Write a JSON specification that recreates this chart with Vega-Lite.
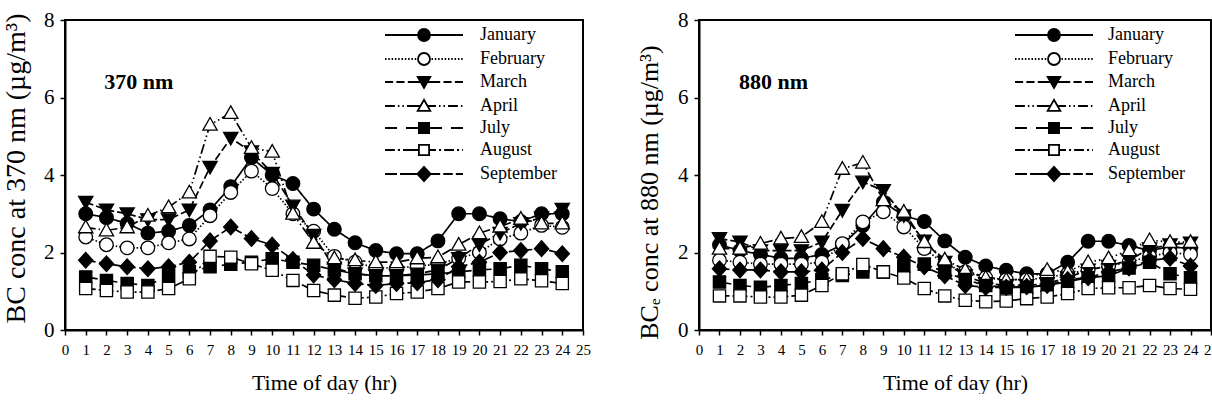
{
  "$schema": "https://vega.github.io/schema/vega-lite/v6.json",
  "padding": {"left": 0, "top": 8, "right": 0, "bottom": 0},
  "background": "white",
  "datasets": {
    "nm370": [
      {"hour": 1, "January": 3.0, "February": 2.4, "March": 3.3, "April": 2.65, "July": 1.37, "August": 1.07, "September": 1.8},
      {"hour": 2, "January": 2.9, "February": 2.2, "March": 3.1, "April": 2.57, "July": 1.28, "August": 1.02, "September": 1.71},
      {"hour": 3, "January": 2.75, "February": 2.12, "March": 3.0, "April": 2.65, "July": 1.2, "August": 0.98, "September": 1.63},
      {"hour": 4, "January": 2.5, "February": 2.12, "March": 2.85, "April": 2.95, "July": 1.15, "August": 0.98, "September": 1.58},
      {"hour": 5, "January": 2.55, "February": 2.25, "March": 2.85, "April": 3.17, "July": 1.41, "August": 1.07, "September": 1.63},
      {"hour": 6, "January": 2.7, "February": 2.35, "March": 3.1, "April": 3.55, "July": 1.5, "August": 1.32, "September": 1.75},
      {"hour": 7, "January": 3.1, "February": 2.95, "March": 4.2, "April": 5.3, "July": 1.63, "August": 1.9, "September": 2.3},
      {"hour": 8, "January": 3.7, "February": 3.55, "March": 4.95, "April": 5.6, "July": 1.7, "August": 1.88, "September": 2.66},
      {"hour": 9, "January": 4.45, "February": 4.1, "March": 4.6, "April": 4.7, "July": 1.75, "August": 1.71, "September": 2.36},
      {"hour": 10, "January": 4.0, "February": 3.65, "March": 4.05, "April": 4.6, "July": 1.84, "August": 1.54, "September": 2.19},
      {"hour": 11, "January": 3.78, "February": 3.0, "March": 3.2, "April": 3.0, "July": 1.75, "August": 1.28, "September": 1.82},
      {"hour": 12, "January": 3.12, "February": 2.55, "March": 2.45, "April": 2.25, "July": 1.67, "August": 1.02, "September": 1.42},
      {"hour": 13, "January": 2.6, "February": 1.9, "March": 1.6, "April": 1.85, "July": 1.55, "August": 0.9, "September": 1.3},
      {"hour": 14, "January": 2.25, "February": 1.75, "March": 1.45, "April": 1.8, "July": 1.45, "August": 0.82, "September": 1.2},
      {"hour": 15, "January": 2.05, "February": 1.6, "March": 1.4, "April": 1.75, "July": 1.4, "August": 0.85, "September": 1.15},
      {"hour": 16, "January": 1.97, "February": 1.6, "March": 1.4, "April": 1.75, "July": 1.4, "August": 0.94, "September": 1.2},
      {"hour": 17, "January": 1.97, "February": 1.65, "March": 1.45, "April": 1.85, "July": 1.42, "August": 0.98, "September": 1.22},
      {"hour": 18, "January": 2.3, "February": 1.7, "March": 1.55, "April": 1.88, "July": 1.45, "August": 1.07, "September": 1.3},
      {"hour": 19, "January": 3.0, "February": 1.85, "March": 1.85, "April": 2.2, "July": 1.5, "August": 1.24, "September": 1.63},
      {"hour": 20, "January": 3.0, "February": 2.0, "March": 2.2, "April": 2.5, "July": 1.55, "August": 1.24, "September": 1.75},
      {"hour": 21, "January": 2.87, "February": 2.35, "March": 2.5, "April": 2.67, "July": 1.58, "August": 1.25, "September": 2.0},
      {"hour": 22, "January": 2.8, "February": 2.5, "March": 2.75, "April": 2.87, "July": 1.67, "August": 1.32, "September": 2.05},
      {"hour": 23, "January": 3.0, "February": 2.7, "March": 2.9, "April": 2.75, "July": 1.58, "August": 1.27, "September": 2.1},
      {"hour": 24, "January": 3.0, "February": 2.65, "March": 3.12, "April": 2.75, "July": 1.5, "August": 1.2, "September": 1.97}
    ],
    "nm880": [
      {"hour": 1, "January": 2.2, "February": 1.8, "March": 2.36, "April": 2.1, "July": 1.24, "August": 0.88, "September": 1.58},
      {"hour": 2, "January": 2.05, "February": 1.75, "March": 2.27, "April": 2.1, "July": 1.15, "August": 0.88, "September": 1.55},
      {"hour": 3, "January": 1.95, "February": 1.7, "March": 2.05, "April": 2.23, "July": 1.1, "August": 0.85, "September": 1.55},
      {"hour": 4, "January": 1.85, "February": 1.7, "March": 2.05, "April": 2.36, "July": 1.15, "August": 0.85, "September": 1.5},
      {"hour": 5, "January": 1.85, "February": 1.7, "March": 2.05, "April": 2.4, "July": 1.2, "August": 0.9, "September": 1.5},
      {"hour": 6, "January": 1.95, "February": 1.75, "March": 2.27, "April": 2.79, "July": 1.3, "August": 1.15, "September": 1.55},
      {"hour": 7, "January": 2.2, "February": 2.23, "March": 3.09, "April": 4.16, "July": 1.41, "August": 1.45, "September": 2.0},
      {"hour": 8, "January": 2.7, "February": 2.79, "March": 3.82, "April": 4.32, "July": 1.5, "August": 1.69, "September": 2.36},
      {"hour": 9, "January": 3.3, "February": 3.05, "March": 3.6, "April": 3.35, "July": 1.5, "August": 1.5, "September": 2.1},
      {"hour": 10, "January": 2.95, "February": 2.66, "March": 2.95, "April": 3.05, "July": 1.65, "August": 1.34, "September": 1.88},
      {"hour": 11, "January": 2.8, "February": 2.1, "March": 2.3, "April": 2.27, "July": 1.7, "August": 1.07, "September": 1.63},
      {"hour": 12, "January": 2.3, "February": 1.7, "March": 1.75, "April": 1.82, "July": 1.5, "August": 0.88, "September": 1.4},
      {"hour": 13, "January": 1.88, "February": 1.5, "March": 1.4, "April": 1.55, "July": 1.3, "August": 0.77, "September": 1.15},
      {"hour": 14, "January": 1.65, "February": 1.35, "March": 1.2, "April": 1.35, "July": 1.15, "August": 0.73, "September": 1.1},
      {"hour": 15, "January": 1.54, "February": 1.3, "March": 1.15, "April": 1.3, "July": 1.1, "August": 0.75, "September": 1.1},
      {"hour": 16, "January": 1.45, "February": 1.3, "March": 1.15, "April": 1.3, "July": 1.1, "August": 0.81, "September": 1.12},
      {"hour": 17, "January": 1.45, "February": 1.35, "March": 1.2, "April": 1.55, "July": 1.15, "August": 0.85, "September": 1.15},
      {"hour": 18, "January": 1.75, "February": 1.45, "March": 1.35, "April": 1.5, "July": 1.25, "August": 0.94, "September": 1.3},
      {"hour": 19, "January": 2.29, "February": 1.55, "March": 1.55, "April": 1.75, "July": 1.35, "August": 1.07, "September": 1.35},
      {"hour": 20, "January": 2.29, "February": 1.65, "March": 1.65, "April": 1.85, "July": 1.4, "August": 1.09, "September": 1.5},
      {"hour": 21, "January": 2.18, "February": 1.75, "March": 1.8, "April": 2.06, "July": 1.6, "August": 1.09, "September": 1.6},
      {"hour": 22, "January": 2.05, "February": 1.9, "March": 2.1, "April": 2.32, "July": 1.75, "August": 1.15, "September": 1.8},
      {"hour": 23, "January": 2.15, "February": 2.0, "March": 2.2, "April": 2.27, "July": 1.45, "August": 1.07, "September": 1.85},
      {"hour": 24, "January": 2.1, "February": 1.95, "March": 2.25, "April": 2.27, "July": 1.35, "August": 1.05, "September": 1.65}
    ]
  },
  "hconcat": [
    {
      "width": 518,
      "height": 310,
      "data": {"name": "nm370"},
      "transform": [{"fold": ["January", "February", "March", "April", "July", "August", "September"], "as": ["month", "bc"]}],
      "layer": [
        {
          "mark": {"type": "line", "stroke": "black", "strokeWidth": 1.7},
          "encoding": {
            "x": {"field": "hour", "type": "quantitative", "scale": {"domain": [0, 25], "nice": false}, "axis": {"tickCount": 25, "title": "Time of day (hr)"}},
            "y": {"field": "bc", "type": "quantitative", "scale": {"domain": [0, 8], "nice": false}, "axis": {"tickCount": 4, "title": "BC conc at 370 nm (µg/m³)", "titleY": 148, "titleFontSize": 28, "titlePadding": 13.5}},
            "strokeDash": {"field": "month", "type": "nominal", "legend": null,
              "scale": {"domain": ["January", "February", "March", "April", "July", "August", "September"],
                        "range": [[1, 0], [1.5, 2], [8, 3], [10, 3, 1.5, 3, 1.5, 3], [12, 8], [10, 3, 2, 3], [10, 3.5]]}}
          }
        },
        {
          "mark": {"type": "point", "filled": true, "stroke": "black", "strokeWidth": 1.3, "size": 185, "opacity": 1},
          "encoding": {
            "x": {"field": "hour", "type": "quantitative", "scale": {"domain": [0, 25], "nice": false}, "axis": {"tickCount": 25, "title": "Time of day (hr)"}},
            "y": {"field": "bc", "type": "quantitative", "scale": {"domain": [0, 8], "nice": false}, "axis": {"tickCount": 4, "title": "BC conc at 370 nm (µg/m³)", "titleY": 148, "titleFontSize": 28, "titlePadding": 13.5}},
            "shape": {"field": "month", "type": "nominal", "legend": null,
              "scale": {"domain": ["January", "February", "March", "April", "July", "August", "September"],
                        "range": ["M1,0A1,1 0 1 1 -1,0A1,1 0 1 1 1,0Z", "M1,0A1,1 0 1 1 -1,0A1,1 0 1 1 1,0Z", "M-1.05,-0.85L1.05,-0.85L0,1Z", "M0,-1.05L1.05,0.8L-1.05,0.8Z", "M-0.9,-0.9H0.9V0.9H-0.9Z", "M-0.9,-0.9H0.9V0.9H-0.9Z", "M0,-1.15L1.05,0L0,1.15L-1.05,0Z"]}},
            "fill": {"field": "month", "type": "nominal", "legend": null,
              "scale": {"domain": ["January", "February", "March", "April", "July", "August", "September"],
                        "range": ["black", "white", "black", "white", "black", "white", "black"]}}
          }
        },
        {
          "transform": [{"filter": "false"}],
          "mark": {"type": "point", "filled": true, "strokeWidth": 1.6, "size": 144, "opacity": 1},
          "encoding": {
            "shape": {"field": "month", "type": "nominal",
              "scale": {"domain": ["January", "February", "March", "April", "July", "August", "September"],
                        "range": [
                          "M-6.5,0H-1M1,0H6.5M1,0A1,1 0 1 1 -1,0A1,1 0 1 1 1,0Z",
                          "M-6.5,0h0.25M-5.95,0h0.25M-5.4,0h0.25M-4.85,0h0.25M-4.3,0h0.25M-3.75,0h0.25M-3.2,0h0.25M-2.65,0h0.25M-2.1,0h0.25M-1.55,0h0.25M1.25,0h0.25M1.8,0h0.25M2.35,0h0.25M2.9,0h0.25M3.45,0h0.25M4,0h0.25M4.55,0h0.25M5.1,0h0.25M5.65,0h0.25M6.2,0h0.25M1,0A1,1 0 1 1 -1,0A1,1 0 1 1 1,0Z",
                          "M-6.5,0H-5.15M-4.6,0H-3.25M-2.7,0H-0.5M0.5,0H2.7M3.25,0H4.6M5.15,0H6.5M-1.05,-0.85L1.05,-0.85L0,1Z",
                          "M-6.5,0H-4.85M-4.35,0H-4.1M-3.6,0H-3.35M-2.85,0H-0.6M0.6,0H2M2.5,0H2.75M3.25,0H3.5M4,0H5.65M6.15,0H6.4M0,-1.05L1.05,0.8L-1.05,0.8Z",
                          "M-6.5,0H-4.5M-3,0H-0.8M0.8,0H3M4.5,0H6.5M-0.85,-0.85H0.85V0.85H-0.85Z",
                          "M-6.5,0H-4.85M-4.35,0H-4M-3.5,0H-0.85M0.85,0H2M2.5,0H2.85M3.35,0H5M5.5,0H5.85M6.35,0H6.5M-0.85,-0.85H0.85V0.85H-0.85Z",
                          "M-6.5,0H-4.5M-4,0H-0.6M0.6,0H2.7M3.2,0H4.8M5.3,0H6.5M0,-1.2L1.1,0L0,1.2L-1.1,0Z"
                        ]},
              "legend": {"orient": "none", "legendX": 317, "legendY": 6, "title": null, "padding": 0, "labelFont": "Liberation Serif", "labelFontSize": 18, "labelColor": "black", "labelOffset": 47, "symbolOffset": 33, "symbolSize": 144, "symbolStrokeWidth": 1.8, "rowPadding": 4}},
            "fill": {"field": "month", "type": "nominal",
              "scale": {"domain": ["January", "February", "March", "April", "July", "August", "September"],
                        "range": ["black", "white", "black", "white", "black", "white", "black"]},
              "legend": {"orient": "none", "legendX": 317, "legendY": 6, "title": null, "padding": 0, "labelFont": "Liberation Serif", "labelFontSize": 18, "labelColor": "black", "labelOffset": 47, "symbolOffset": 33, "symbolSize": 144, "symbolStrokeWidth": 1.8, "rowPadding": 4}},
            "stroke": {"field": "month", "type": "nominal",
              "scale": {"domain": ["January", "February", "March", "April", "July", "August", "September"],
                        "range": ["black", "black", "black", "black", "black", "black", "black"]},
              "legend": {"orient": "none", "legendX": 317, "legendY": 6, "title": null, "padding": 0, "labelFont": "Liberation Serif", "labelFontSize": 18, "labelColor": "black", "labelOffset": 47, "symbolOffset": 33, "symbolSize": 144, "symbolStrokeWidth": 1.8, "rowPadding": 4}}
          }
        },
        {
          "data": {"values": [{"label": "370 nm"}]},
          "mark": {"type": "text", "align": "left", "baseline": "middle", "font": "Liberation Serif", "fontSize": 22, "fontWeight": "bold", "fill": "black"},
          "encoding": {"x": {"datum": 1.9}, "y": {"datum": 6.4}, "text": {"field": "label", "type": "nominal"}}
        }
      ],
      "resolve": {"scale": {"shape": "independent", "fill": "independent", "stroke": "independent"}}
    },
    {
      "width": 512,
      "height": 310,
      "data": {"name": "nm880"},
      "transform": [{"fold": ["January", "February", "March", "April", "July", "August", "September"], "as": ["month", "bc"]}],
      "layer": [
        {
          "mark": {"type": "line", "stroke": "black", "strokeWidth": 1.7},
          "encoding": {
            "x": {"field": "hour", "type": "quantitative", "scale": {"domain": [0, 25], "nice": false}, "axis": {"tickCount": 25, "title": "Time of day (hr)"}},
            "y": {"field": "bc", "type": "quantitative", "scale": {"domain": [0, 8], "nice": false}, "axis": {"tickCount": 4, "title": "BCₑ conc at 880 nm (µg/m³)", "titleY": 172, "titleFontSize": 26, "titlePadding": 15.5}},
            "strokeDash": {"field": "month", "type": "nominal", "legend": null,
              "scale": {"domain": ["January", "February", "March", "April", "July", "August", "September"],
                        "range": [[1, 0], [1.5, 2], [8, 3], [10, 3, 1.5, 3, 1.5, 3], [12, 8], [10, 3, 2, 3], [10, 3.5]]}}
          }
        },
        {
          "mark": {"type": "point", "filled": true, "stroke": "black", "strokeWidth": 1.3, "size": 185, "opacity": 1},
          "encoding": {
            "x": {"field": "hour", "type": "quantitative", "scale": {"domain": [0, 25], "nice": false}, "axis": {"tickCount": 25, "title": "Time of day (hr)"}},
            "y": {"field": "bc", "type": "quantitative", "scale": {"domain": [0, 8], "nice": false}, "axis": {"tickCount": 4, "title": "BCₑ conc at 880 nm (µg/m³)", "titleY": 172, "titleFontSize": 26, "titlePadding": 15.5}},
            "shape": {"field": "month", "type": "nominal", "legend": null,
              "scale": {"domain": ["January", "February", "March", "April", "July", "August", "September"],
                        "range": ["M1,0A1,1 0 1 1 -1,0A1,1 0 1 1 1,0Z", "M1,0A1,1 0 1 1 -1,0A1,1 0 1 1 1,0Z", "M-1.05,-0.85L1.05,-0.85L0,1Z", "M0,-1.05L1.05,0.8L-1.05,0.8Z", "M-0.9,-0.9H0.9V0.9H-0.9Z", "M-0.9,-0.9H0.9V0.9H-0.9Z", "M0,-1.15L1.05,0L0,1.15L-1.05,0Z"]}},
            "fill": {"field": "month", "type": "nominal", "legend": null,
              "scale": {"domain": ["January", "February", "March", "April", "July", "August", "September"],
                        "range": ["black", "white", "black", "white", "black", "white", "black"]}}
          }
        },
        {
          "transform": [{"filter": "false"}],
          "mark": {"type": "point", "filled": true, "strokeWidth": 1.6, "size": 144, "opacity": 1},
          "encoding": {
            "shape": {"field": "month", "type": "nominal",
              "scale": {"domain": ["January", "February", "March", "April", "July", "August", "September"],
                        "range": [
                          "M-6.5,0H-1M1,0H6.5M1,0A1,1 0 1 1 -1,0A1,1 0 1 1 1,0Z",
                          "M-6.5,0h0.25M-5.95,0h0.25M-5.4,0h0.25M-4.85,0h0.25M-4.3,0h0.25M-3.75,0h0.25M-3.2,0h0.25M-2.65,0h0.25M-2.1,0h0.25M-1.55,0h0.25M1.25,0h0.25M1.8,0h0.25M2.35,0h0.25M2.9,0h0.25M3.45,0h0.25M4,0h0.25M4.55,0h0.25M5.1,0h0.25M5.65,0h0.25M6.2,0h0.25M1,0A1,1 0 1 1 -1,0A1,1 0 1 1 1,0Z",
                          "M-6.5,0H-5.15M-4.6,0H-3.25M-2.7,0H-0.5M0.5,0H2.7M3.25,0H4.6M5.15,0H6.5M-1.05,-0.85L1.05,-0.85L0,1Z",
                          "M-6.5,0H-4.85M-4.35,0H-4.1M-3.6,0H-3.35M-2.85,0H-0.6M0.6,0H2M2.5,0H2.75M3.25,0H3.5M4,0H5.65M6.15,0H6.4M0,-1.05L1.05,0.8L-1.05,0.8Z",
                          "M-6.5,0H-4.5M-3,0H-0.8M0.8,0H3M4.5,0H6.5M-0.85,-0.85H0.85V0.85H-0.85Z",
                          "M-6.5,0H-4.85M-4.35,0H-4M-3.5,0H-0.85M0.85,0H2M2.5,0H2.85M3.35,0H5M5.5,0H5.85M6.35,0H6.5M-0.85,-0.85H0.85V0.85H-0.85Z",
                          "M-6.5,0H-4.5M-4,0H-0.6M0.6,0H2.7M3.2,0H4.8M5.3,0H6.5M0,-1.2L1.1,0L0,1.2L-1.1,0Z"
                        ]},
              "legend": {"orient": "none", "legendX": 313, "legendY": 6, "title": null, "padding": 0, "labelFont": "Liberation Serif", "labelFontSize": 18, "labelColor": "black", "labelOffset": 45, "symbolOffset": 33, "symbolSize": 144, "symbolStrokeWidth": 1.8, "rowPadding": 4}},
            "fill": {"field": "month", "type": "nominal",
              "scale": {"domain": ["January", "February", "March", "April", "July", "August", "September"],
                        "range": ["black", "white", "black", "white", "black", "white", "black"]},
              "legend": {"orient": "none", "legendX": 313, "legendY": 6, "title": null, "padding": 0, "labelFont": "Liberation Serif", "labelFontSize": 18, "labelColor": "black", "labelOffset": 45, "symbolOffset": 33, "symbolSize": 144, "symbolStrokeWidth": 1.8, "rowPadding": 4}},
            "stroke": {"field": "month", "type": "nominal",
              "scale": {"domain": ["January", "February", "March", "April", "July", "August", "September"],
                        "range": ["black", "black", "black", "black", "black", "black", "black"]},
              "legend": {"orient": "none", "legendX": 313, "legendY": 6, "title": null, "padding": 0, "labelFont": "Liberation Serif", "labelFontSize": 18, "labelColor": "black", "labelOffset": 45, "symbolOffset": 33, "symbolSize": 144, "symbolStrokeWidth": 1.8, "rowPadding": 4}}
          }
        },
        {
          "data": {"values": [{"label": "880 nm"}]},
          "mark": {"type": "text", "align": "left", "baseline": "middle", "font": "Liberation Serif", "fontSize": 22, "fontWeight": "bold", "fill": "black"},
          "encoding": {"x": {"datum": 1.95}, "y": {"datum": 6.4}, "text": {"field": "label", "type": "nominal"}}
        }
      ],
      "resolve": {"scale": {"shape": "independent", "fill": "independent", "stroke": "independent"}}
    }
  ],
  "spacing": 43,
  "config": {
    "font": "Liberation Serif",
    "view": {"stroke": "black", "strokeWidth": 2},
    "axis": {
      "domainColor": "black", "domainWidth": 2, "tickColor": "black", "tickWidth": 1.5, "tickSize": 5,
      "labelColor": "black", "titleColor": "black", "labelFont": "Liberation Serif", "titleFont": "Liberation Serif",
      "titleFontWeight": "normal", "grid": false, "labelFlush": false
    },
    "axisX": {"labelFontSize": 15, "labelPadding": 7, "titleFontSize": 22, "titlePadding": 15, "labelOverlap": false},
    "axisY": {"labelFontSize": 21, "labelPadding": 6}
  }
}
